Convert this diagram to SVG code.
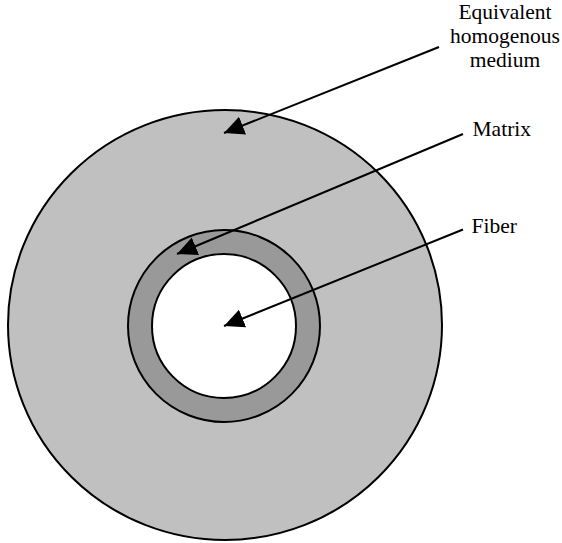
<svg xmlns="http://www.w3.org/2000/svg" width="562" height="543" viewBox="0 0 562 543">
<style>
.lbl{font-family:"Liberation Serif","DejaVu Serif",serif;font-size:21.5px;fill:#000}
.conn{stroke:#000;stroke-width:2;fill:none;marker-end:url(#ah)}
</style>
<defs>
<marker id="ah" viewBox="0 0 20 20" refX="20" refY="10" markerWidth="20" markerHeight="20" markerUnits="userSpaceOnUse" orient="auto">
<path d="M0,0.5 L20,10 L0,19.5 z" fill="#000"/>
</marker>
</defs>
<rect width="562" height="543" fill="#fff"/>
<g id="medium">
<ellipse cx="225" cy="325" rx="217" ry="215" fill="#c0c0c0" stroke="#000" stroke-width="2"/>
</g>
<g id="matrix">
<circle cx="224" cy="326" r="96" fill="#999999" stroke="#000" stroke-width="2"/>
</g>
<g id="fiber">
<circle cx="224" cy="326" r="72" fill="#fff" stroke="#000" stroke-width="2"/>
</g>
<g id="connectors">
<line class="conn" x1="439" y1="47" x2="224" y2="133"/>
<line class="conn" x1="463" y1="134" x2="177" y2="254"/>
<line class="conn" x1="463" y1="229.5" x2="224" y2="326"/>
</g>
<g id="labels">
<text class="lbl" x="505" y="19" text-anchor="middle">Equivalent</text>
<text class="lbl" x="505" y="43" text-anchor="middle">homogenous</text>
<text class="lbl" x="505" y="67" text-anchor="middle">medium</text>
<text class="lbl" x="472.5" y="135.5">Matrix</text>
<text class="lbl" x="471.5" y="232.5">Fiber</text>
</g>
</svg>
